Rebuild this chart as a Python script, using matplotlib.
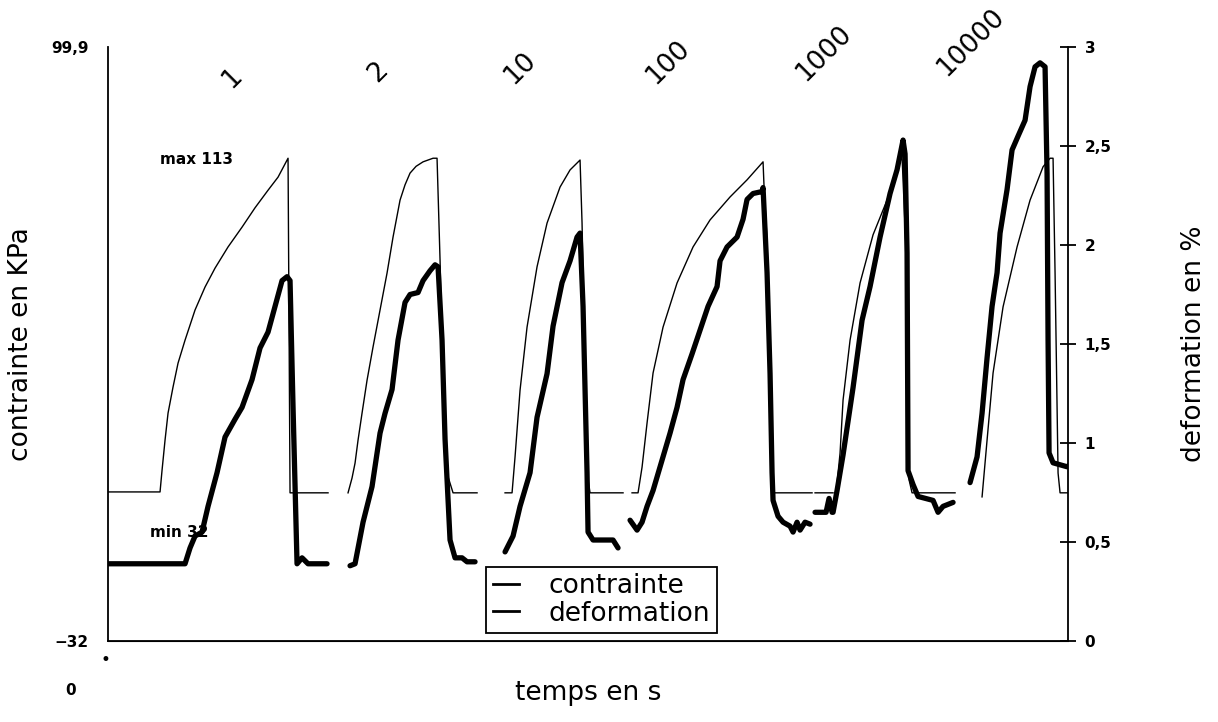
import numpy as np
import matplotlib.pyplot as plt
from matplotlib.lines import Line2D

nan = np.nan

# contrainte (KPa) - temps (unites arbitraires), cycles separes par nan
t_contrainte = [0, 5.2, 5.4, 5.7, 6.0, 6.5, 7.0, 7.7, 8.7, 9.7, 10.7, 12.0, 13.4, 14.7, 16.0, 17.0, 18.0, 18.2, 22.0, nan,
                24.0, 24.4, 24.7, 25.0, 25.4, 25.9, 26.5, 27.2, 27.9, 28.5, 29.2, 29.7, 30.2, 30.8, 31.5, 32.5, 32.9, 33.2, 33.7, 34.5, 36.9, nan,
                39.7, 40.4, 40.7, 41.2, 41.9, 42.9, 43.9, 45.2, 46.2, 47.2, 47.4, 47.9, 48.2, 51.5, nan,
                52.4, 53.0, 53.4, 53.9, 54.5, 55.5, 56.9, 58.5, 60.2, 62.2, 63.9, 65.5, 65.6, 65.9, 66.4, 66.5, 70.4, nan,
                70.7, 72.5, nan,
                72.8, 73.2, 73.5, 74.2, 75.2, 76.5, 77.9, 79.2, 79.4, 79.8, 80.1, 80.4, 84.7, nan,
                87.4, 87.9, 88.5, 89.5, 90.9, 92.2, 93.5, 94.2, 94.5, 94.7, 95.0, 95.2, 97.0]
contrainte = [1.1, 1.1, 5.9, 12.6, 18.6, 24.4, 29.7, 34.8, 41.5, 46.6, 50.8, 55.5, 59.9, 64.2, 68.1, 71.0, 75.2, 0.9, 0.9, nan,
              0.9, 4.2, 7.5, 12.6, 18.6, 25.9, 33.3, 41.5, 49.7, 57.7, 65.9, 69.3, 71.9, 73.4, 74.4, 75.2, 75.2, 52.6, 6.6, 0.9, 0.9, nan,
              0.9, 0.9, 8.9, 23.7, 37.7, 51.1, 60.8, 68.8, 72.6, 74.8, 60.8, 5.3, 0.9, 0.9, nan,
              0.9, 0.9, 6.6, 16.4, 27.5, 37.7, 47.5, 55.5, 61.5, 66.6, 70.4, 74.4, 68.8, 57.0, 5.3, 0.9, 0.9, nan,
              0.9, 0.9, nan,
              0.9, 9.7, 21.5, 34.8, 47.5, 58.2, 65.9, 74.5, 75.5, 54.8, 3.8, 0.9, 0.9, nan,
              0.0, 12.6, 27.5, 42.2, 55.5, 65.9, 73.3, 75.2, 75.2, 49.7, 5.3, 0.9, 0.9]

# deformation (%)
t_deformation = [0, 7.7, 8.2, 8.7, 9.4, 10.0, 10.9, 11.7, 12.7, 13.4, 14.4, 15.2, 16.0, 16.7, 17.4, 17.9, 18.2, 18.5, 18.9, 19.4, 20.0, 21.9, nan,
                 24.2, 24.7, 25.5, 26.4, 27.2, 27.7, 28.4, 29.0, 29.7, 30.2, 31.0, 31.5, 32.2, 32.7, 33.0, 33.4, 33.7, 34.2, 34.7, 35.4, 35.9, 36.7, nan,
                 39.7, 40.5, 41.2, 42.2, 42.9, 43.9, 44.5, 45.4, 46.2, 46.9, 47.2, 47.5, 47.9, 48.0, 48.5, 50.5, 51.0, nan,
                 52.2, 52.9, 53.4, 53.9, 54.5, 55.2, 56.2, 56.9, 57.5, 58.4, 59.2, 60.0, 60.9, 61.2, 61.9, 62.9, 63.5, 63.9, 64.5, 65.4, 65.5,
                 65.9, 66.2, 66.4, 66.5, 67.0, 67.5, 68.2, 68.5, 68.9, 69.2, 69.7, 70.2, nan,
                 70.7, 71.8, 72.1, 72.4, 72.5, 72.9, 73.5, 74.5, 75.4, 76.2, 77.2, 78.2, 78.9, 79.5, 79.7, 79.9, 80.0, 80.5, 81.0, 82.5, 83.0, 83.5, 84.5, nan,
                 86.2, 86.9, 87.4, 87.9, 88.4, 88.9, 89.2, 89.9, 90.4, 91.0, 91.7, 92.2, 92.7, 93.2, 93.7, 93.9, 94.0, 94.1, 94.5, 95.2, 95.9, 96.5]
deformation = [0.39, 0.39, 0.47, 0.53, 0.55, 0.68, 0.85, 1.03, 1.12, 1.18, 1.32, 1.48, 1.56, 1.69, 1.82, 1.84, 1.82, 1.18, 0.39, 0.42, 0.39, 0.39, nan,
               0.38, 0.39, 0.60, 0.78, 1.05, 1.15, 1.27, 1.52, 1.71, 1.75, 1.76, 1.82, 1.87, 1.90, 1.89, 1.52, 1.02, 0.51, 0.42, 0.42, 0.40, 0.40, nan,
               0.45, 0.53, 0.68, 0.85, 1.13, 1.35, 1.59, 1.81, 1.92, 2.04, 2.06, 1.69, 0.85, 0.55, 0.51, 0.51, 0.47, nan,
               0.61, 0.56, 0.60, 0.68, 0.76, 0.88, 1.05, 1.18, 1.32, 1.45, 1.57, 1.69, 1.79, 1.92, 1.99, 2.04, 2.13, 2.23, 2.26, 2.27, 2.29,
               1.86, 1.35, 0.85, 0.71, 0.63, 0.60, 0.58, 0.55, 0.60, 0.56, 0.60, 0.59, nan,
               0.65, 0.65, 0.72, 0.65, 0.65, 0.76, 0.94, 1.28, 1.62, 1.79, 2.04, 2.26, 2.38, 2.53, 2.46, 1.96, 0.86, 0.79, 0.73, 0.71, 0.65, 0.68, 0.70, nan,
               0.80, 0.93, 1.15, 1.43, 1.69, 1.86, 2.06, 2.28, 2.48, 2.55, 2.63, 2.80, 2.90, 2.92, 2.90, 2.36, 1.52, 0.95, 0.90, 0.89, 0.88, 0.90]

cycles = ["1", "2", "10", "100", "1000", "10000"]
cycle_t = [12.4, 27.0, 41.2, 56.0, 71.6, 86.3]
cycle_y = [93.0, 94.3, 95.2, 96.5, 98.5, 101.0]

def_ticks = [0, 0.5, 1, 1.5, 2, 2.5, 3]
def_labels = ["0", "0,5", "1", "1,5", "2", "2,5", "3"]

plt.rcParams['font.family'] = ['DejaVu Sans']

fig = plt.figure(figsize=(12.18, 7.22), dpi=100)
ax = fig.add_axes([0.0887, 0.1122, 0.7882, 0.8227])
ax2 = ax.twinx()

ax.plot(t_contrainte, contrainte, color='black', lw=1.0)
ax2.plot(t_deformation, deformation, color='black', lw=3.8, solid_joinstyle='round',
         solid_capstyle='round')

ax.set_xlim(0, 96)
ax.set_ylim(-32, 99.9)
ax2.set_ylim(0, 3)

for a in (ax, ax2):
    a.spines['top'].set_visible(False)
    a.set_xticks([])
ax.spines['right'].set_visible(False)
ax2.spines['left'].set_visible(False)
for s in ['left', 'bottom']:
    ax.spines[s].set_linewidth(1.3)
ax2.spines['right'].set_linewidth(1.3)

ax.set_yticks([-32, 99.9])
ax.set_yticklabels(["\u221232", "99,9"], fontsize=11, fontweight='bold')
ax.tick_params(axis='y', length=0, pad=14)

ax2.set_yticks(def_ticks)
ax2.set_yticklabels(def_labels, fontsize=11, fontweight='bold')
ax2.tick_params(axis='y', direction='inout', length=12, width=1.3, pad=6)

ax.set_ylabel("contrainte en KPa", fontsize=19, labelpad=12)
ax2.set_ylabel("deformation en %", fontsize=19, labelpad=50)
ax.set_xlabel("temps en s", fontsize=19, labelpad=28)

for lab, tx, ty in zip(cycles, cycle_t, cycle_y):
    ax.text(tx, ty, lab, rotation=45, fontsize=19, ha='center', va='center', clip_on=False)

ax.text(5.2, 75.0, "max 113", fontsize=11, fontweight='bold', ha='left', va='center')
ax.text(4.2, -8.0, "min 32", fontsize=11, fontweight='bold', ha='left', va='center')

fig.text(0.058, 0.044, "0", fontsize=11, fontweight='bold', ha='center', va='center')
fig.text(0.0865, 0.086, "\u2022", fontsize=12, ha='center', va='center')

handles = [Line2D([0], [0], color='black', lw=2),
           Line2D([0], [0], color='black', lw=2)]
leg = ax.legend(handles, ["contrainte", "deformation"], loc='upper left',
                bbox_to_anchor=(0.394, 0.125), fontsize=19, handlelength=1.0,
                handletextpad=1.1, fancybox=False, framealpha=1, edgecolor='black',
                borderpad=0.25, labelspacing=0.05, borderaxespad=0)
leg.get_frame().set_linewidth(1.3)

fig.savefig("out.png", dpi=100)
